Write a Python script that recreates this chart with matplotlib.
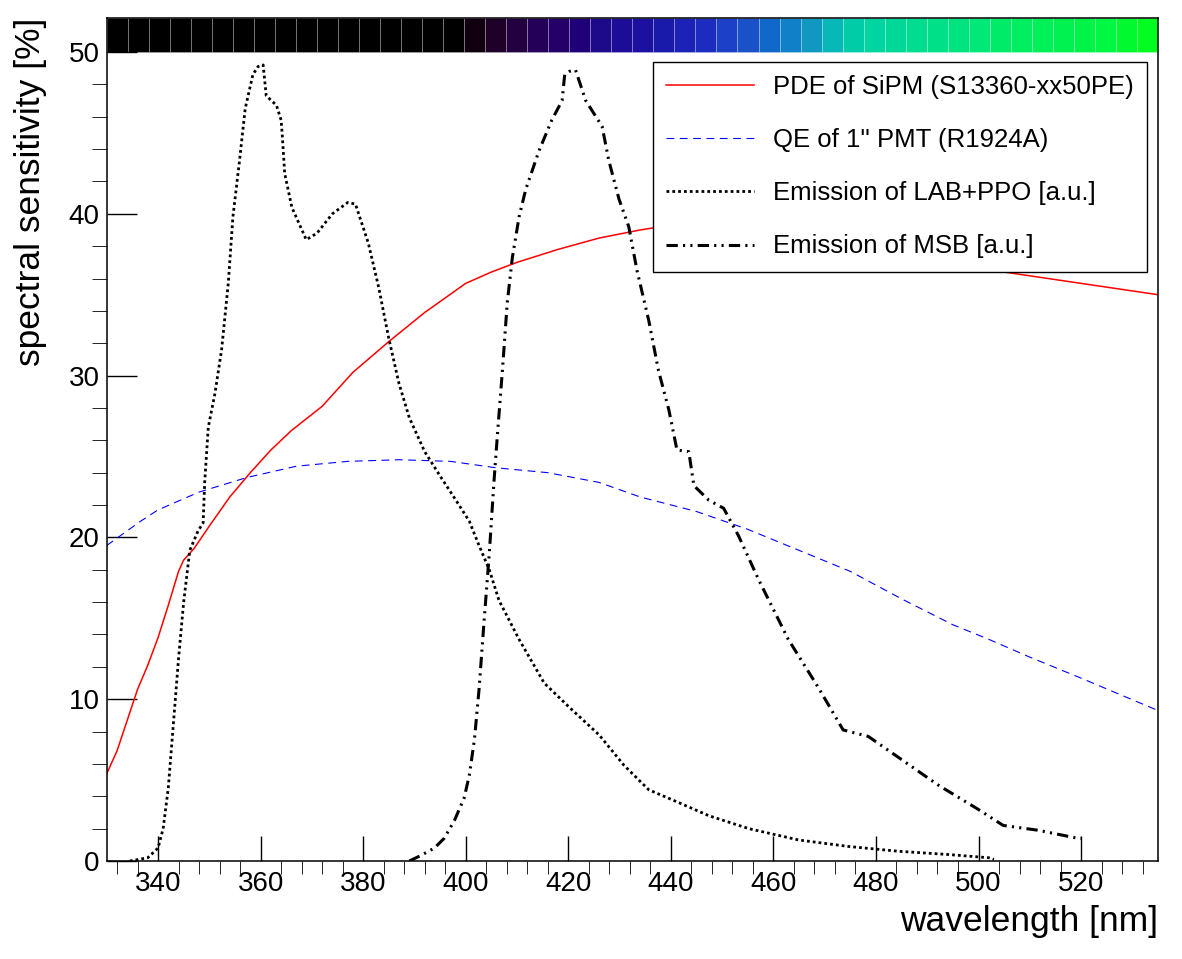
import matplotlib
matplotlib.use('agg')
import matplotlib.pyplot as plt
from matplotlib.ticker import MultipleLocator, FixedLocator
import numpy as np

# PDE of SiPM (S13360-xx50PE)
PDE_WL = [330, 332, 334, 336, 338, 340, 342, 344, 345, 347, 350, 354, 358, 362,
          366, 372, 378, 385, 392, 400, 405, 410, 418, 426, 434, 442, 450, 460,
          470, 480, 490, 500, 505, 520, 535]
PDE_VAL = [5.4, 6.8, 8.7, 10.6, 12.1, 13.8, 15.8, 17.9, 18.6, 19.3, 20.7, 22.5,
           24.0, 25.4, 26.6, 28.1, 30.2, 32.1, 33.9, 35.7, 36.4, 37.0, 37.8,
           38.5, 39.0, 39.4, 39.6, 39.5, 39.1, 38.5, 37.7, 36.9, 36.4, 35.7, 35.0]

# QE of 1" PMT (R1924A)
QE_WL = [330, 336.6, 340, 348, 357.3, 367, 377, 387, 397, 406, 416, 426, 434,
         445, 455, 465, 475, 485, 495, 502, 510, 520, 535]
QE_VAL = [19.5, 21.0, 21.7, 22.8, 23.7, 24.4, 24.7, 24.8, 24.7, 24.3, 24.0, 23.4,
          22.5, 21.6, 20.5, 19.2, 17.9, 16.2, 14.6, 13.7, 12.6, 11.3, 9.3]

# Emission of LAB+PPO
LAB_WL = [334.5, 338, 340, 341, 342, 343, 344, 345, 346.2, 347.8, 348.8, 349.1,
          349.8, 351.1, 352.4, 353.7, 354.6, 355.9, 357, 358.5, 359.5, 360.5,
          361.1, 363.1, 364.0, 364.2, 364.7, 366.1, 368.9, 371, 374, 377, 378.5,
          381, 383, 385, 387, 389, 392, 395, 398.7, 400.7, 402.6, 404.6, 406.5,
          410.4, 415.3, 420.2, 426, 430.9, 435.7, 441.6, 447.4, 455.2, 464.9,
          474.6, 484.4, 494.1, 502, 503]
LAB_VAL = [0.0, 0.2, 0.8, 2.0, 4.5, 8.5, 12.5, 16.0, 19.2, 20.4, 20.9, 23.4,
           26.8, 28.9, 31.6, 35.7, 39.8, 43.3, 46.5, 48.6, 49.1, 49.2, 47.3,
           46.7, 45.8, 45.0, 42.5, 40.4, 38.4, 38.8, 40.0, 40.7, 40.6, 38.2,
           35.5, 32.3, 29.5, 27.4, 25.3, 23.8, 22.0, 21.0, 19.5, 18.0, 16.1,
           13.7, 11.0, 9.5, 7.8, 5.9, 4.4, 3.6, 2.8, 2.0, 1.3, 0.9, 0.6, 0.4,
           0.2, 0.1]

# Emission of MSB
MSB_WL = [389, 391, 393.9, 395.8, 397.8, 399.7, 400.7, 401.7, 402.6, 403.6,
          404.6, 405.5, 406.2, 407.2, 408.1, 409.1, 410.4, 411.7, 414.3, 416.8,
          418.8, 419.3, 420.2, 421.4, 423.4, 426.6, 427.9, 429.9, 431.8, 433.4,
          435.7, 437.6, 439.6, 441.2, 443.5, 444.5, 447.4, 450.3, 453.2, 457.1,
          462.9, 468.8, 473.6, 478.5, 484.4, 492.1, 499.9, 504.8, 511.6, 519.4,
          520]
MSB_VAL = [0.0, 0.3, 0.8, 1.4, 2.5, 3.9, 5.3, 7.5, 10.6, 14.9, 19.0, 23.4, 26.4,
           30.5, 34.5, 37.3, 39.8, 41.5, 43.9, 45.8, 47.0, 48.6, 48.8, 48.9,
           47.0, 45.4, 43.3, 40.9, 39.2, 36.5, 33.4, 30.3, 27.9, 25.4, 25.3,
           23.2, 22.3, 21.8, 20.1, 17.4, 13.7, 10.7, 8.1, 7.7, 6.4, 4.7, 3.2,
           2.2, 1.9, 1.4, 1.4]

LABELS = ['PDE of SiPM (S13360-xx50PE)', "QE of 1'' PMT (R1924A)",
          'Emission of LAB+PPO [a.u.]', 'Emission of MSB [a.u.]']

# colour strip along the top (50 bins over 330-535 nm)
STRIP_COLORS = ['#000000'] * 17 + [
    '#100010', '#1e0028', '#230040', '#250058', '#240068', '#1f0078',
    '#1d0a8a', '#1c0c98', '#1c10a0', '#1a1aaa', '#1c22b8', '#1c2cc0',
    '#1c40c8', '#1a50c8', '#1068c8', '#1080c8', '#1098c0', '#08b8b8',
    '#00cca8', '#00d4a0', '#00d898', '#00dc90', '#00e088', '#00e480',
    '#00e878', '#00ec68', '#00ee60', '#00f058', '#00f250', '#00f448',
    '#00f840', '#00fa30', '#00ff20']

XMIN, XMAX = 330, 535
YMAX = 52.1
STRIP_LOW = 50

plt.rcParams['font.family'] = ['Liberation Sans', 'DejaVu Sans']

fig = plt.figure(figsize=(11.82, 9.59), dpi=100)
ax = fig.add_axes([0.0903, 0.1022, 0.8894, 0.879])

edges = np.linspace(XMIN, XMAX, len(STRIP_COLORS) + 1)
ax.bar(edges[:-1], YMAX - STRIP_LOW, width=np.diff(edges), bottom=STRIP_LOW,
       align='edge', color=STRIP_COLORS, edgecolor=(1, 1, 1, 0.25),
       linewidth=0.6, zorder=1)

ax.plot(PDE_WL, PDE_VAL, color='red', lw=1.1, label=LABELS[0], zorder=3)
ax.plot(QE_WL, QE_VAL, color='blue', lw=0.8, linestyle=(0, (7, 5)),
        label=LABELS[1], zorder=3)
ax.plot(LAB_WL, LAB_VAL, color='black', lw=2.0, linestyle=(0, (1, 1.1)),
        label=LABELS[2], zorder=3)
ax.plot(MSB_WL, MSB_VAL, color='black', lw=2.2,
        linestyle=(0, (3.7, 1.7, 0.7, 1.7, 0.7, 1.7)), label=LABELS[3], zorder=3)

ax.set_xlim(XMIN, XMAX)
ax.set_ylim(0, YMAX)
ax.set_xticks(np.arange(340, 521, 20))
ax.xaxis.set_minor_locator(MultipleLocator(4))
ax.set_yticks(np.arange(0, 51, 10))
ax.yaxis.set_minor_locator(FixedLocator(np.arange(0, 51, 2)))

ax.tick_params(direction='in', top=False, right=False, labelsize=20, width=1.0)
ax.tick_params(axis='x', which='major', length=18, pad=7)
ax.tick_params(axis='x', which='minor', length=9)
ax.tick_params(axis='y', which='major', length=21.6, pad=5)
ax.tick_params(axis='y', which='minor', length=10.8)
for sp in ax.spines.values():
    sp.set_linewidth(1.1)
    sp.set_zorder(5)

ax.set_xlabel('wavelength [nm]', fontsize=25.5, loc='right')
ax.xaxis.set_label_coords(1.0, -0.052)
ax.set_ylabel('spectral sensitivity [%]', fontsize=25.5, loc='top')
ax.yaxis.set_label_coords(-0.057, 1.0)

leg = ax.legend(loc='upper right', bbox_to_anchor=(0.9895, 0.9478),
                borderaxespad=0, fontsize=18.5, handlelength=3.4,
                handletextpad=0.75, labelspacing=1.13, borderpad=0.52,
                fancybox=False, framealpha=1, edgecolor='black')
leg.get_frame().set_linewidth(1.0)
leg.set_zorder(6)

plt.savefig('out.png', dpi=100)
